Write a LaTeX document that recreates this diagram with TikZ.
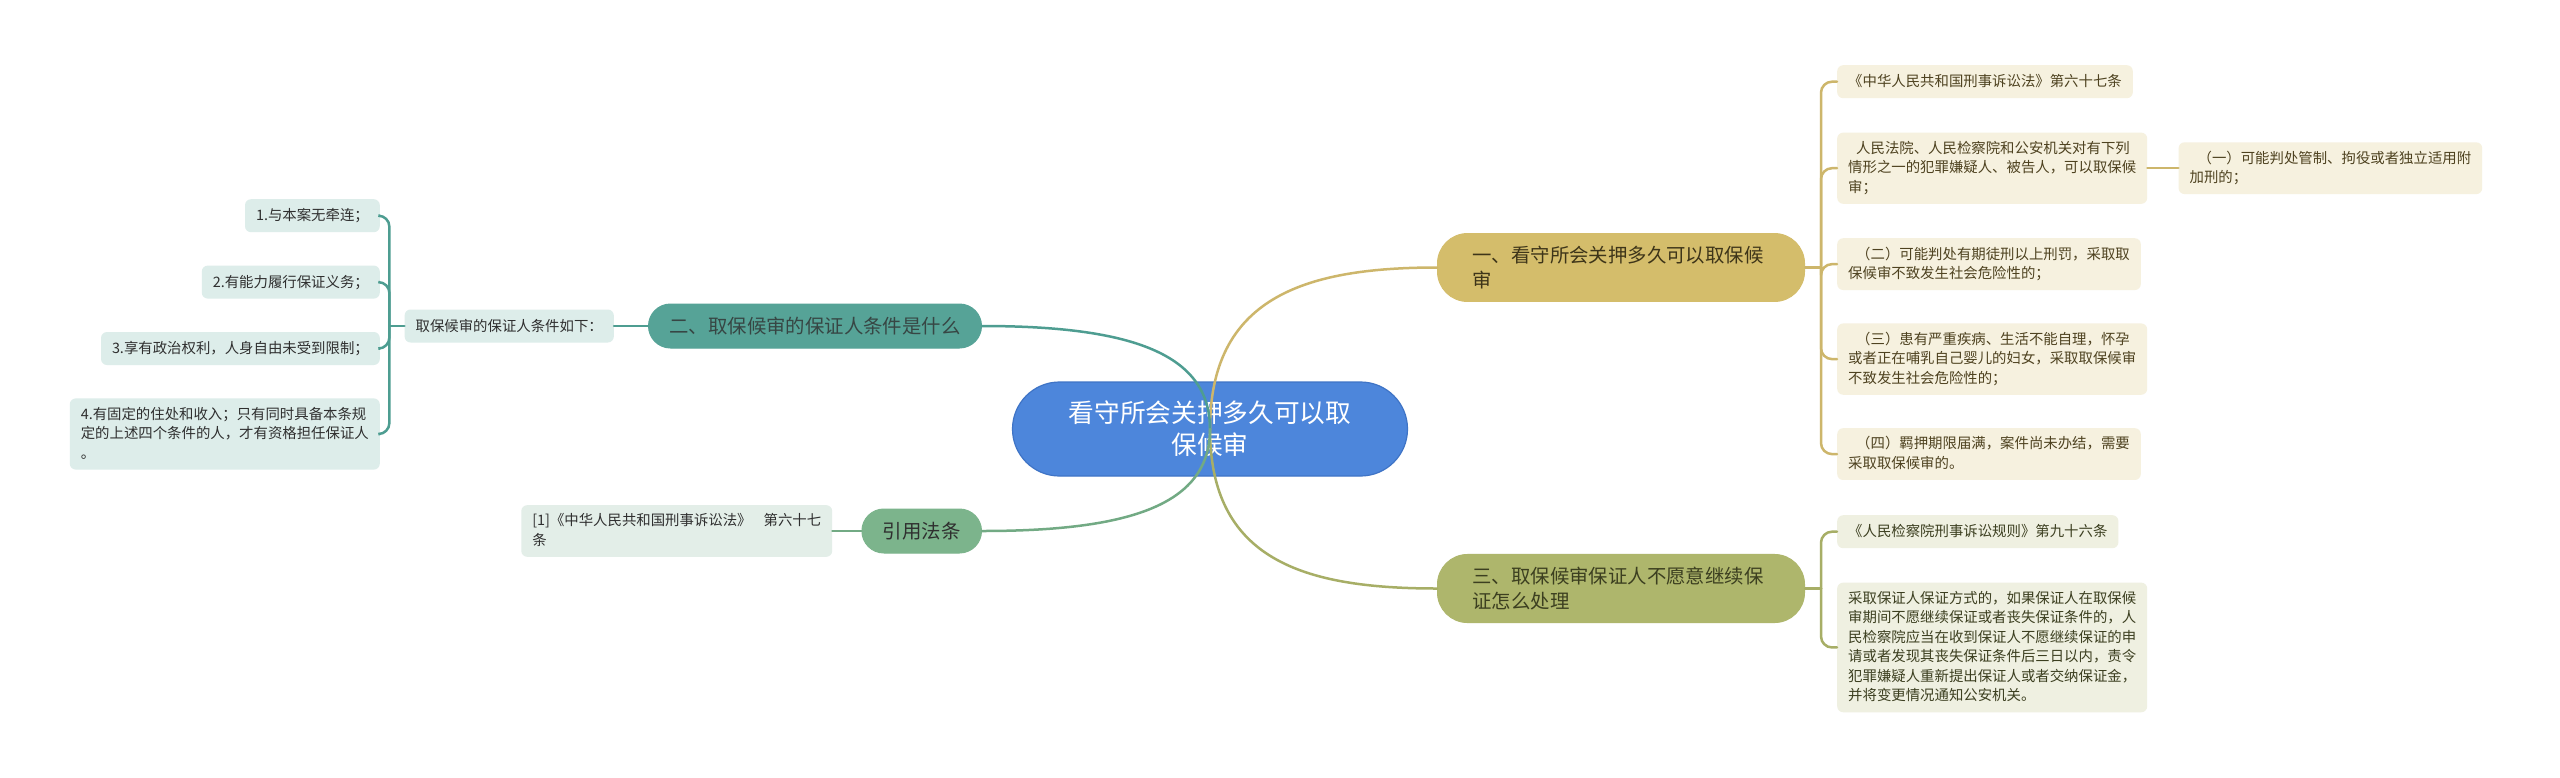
\documentclass[tikz,border=0pt]{standalone}
\usepackage{fontspec}
\newfontfamily\cjk{Noto Sans CJK SC}
\usepackage{tikz}
\usetikzlibrary{positioning}
\definecolor{MapBlue}{HTML}{4D86DB}
\definecolor{MapBlueEdge}{HTML}{3F74C6}
\definecolor{MapGold}{HTML}{D4BD6B}
\definecolor{MapGoldLine}{HTML}{CDB66B}
\definecolor{MapGoldLeaf}{HTML}{F6F1DF}
\definecolor{MapGoldTxt}{HTML}{4E4220}
\definecolor{MapOlive}{HTML}{AEB66C}
\definecolor{MapOliveLine}{HTML}{A7AE66}
\definecolor{MapOliveLeaf}{HTML}{EFF0E1}
\definecolor{MapOliveTxt}{HTML}{3C3F20}
\definecolor{MapTeal}{HTML}{56A397}
\definecolor{MapTealLine}{HTML}{4E9D91}
\definecolor{MapTealLeaf}{HTML}{DDEDEA}
\definecolor{MapSage}{HTML}{7CB48C}
\definecolor{MapSageLine}{HTML}{72AA84}
\definecolor{MapSageLeaf}{HTML}{E3EEE8}
\definecolor{MapDarkTxt}{HTML}{2F2F2F}

\begin{document}
\begin{tikzpicture}[
        x=1pt, y=1pt,
        every node/.style={font=\cjk},
        central/.style={
                fill=MapBlue,
                draw=MapBlueEdge,
                line width=1.2pt,
                rounded corners=47pt,
                minimum width=395pt,
                minimum height=94pt,
                align=center,
                text=white,
                font=\cjk\fontsize{25.7}{32}\selectfont
            },
        branch/.style={
                line width=1pt,
                rounded corners=22pt,
                inner xsep=21pt,
                inner ysep=12.5pt,
                minimum height=44pt,
                align=left,
                font=\cjk\fontsize{19.4}{25}\selectfont
            },
        widebranch/.style={branch, rounded corners=30pt, inner xsep=35pt, text width=297pt},
        leaf/.style={
                rounded corners=6pt,
                inner xsep=11pt,
                inner ysep=8.5pt,
                align=left,
                font=\cjk\fontsize{14.4}{19.5}\selectfont,
                execute at begin node={\rule[-3pt]{0pt}{16pt}},
                execute at end node={\rule[-3pt]{0pt}{3pt}}
            },
        goldleaf/.style={leaf, fill=MapGoldLeaf, text=MapGoldTxt},
        oliveleaf/.style={leaf, fill=MapOliveLeaf, text=MapOliveTxt},
        tealleaf/.style={leaf, fill=MapTealLeaf, text=MapDarkTxt},
        sageleaf/.style={leaf, fill=MapSageLeaf, text=MapDarkTxt},
        link/.style={line width=2.5pt, line cap=round},
        bracket/.style={link, rounded corners=11pt},
    ]

    \fill[white] (0,0) rectangle (2560,-777);
    \useasboundingbox (0,0) rectangle (2560,-777);

    % Main topics
    \node[central] (root) at (1210,-429) {看守所会关押多久可以取\\保候审};

    \node[widebranch, fill=MapGold, draw=MapGold, text=MapGoldTxt!80!black, anchor=west] (how) at (1437,-267.5)
        {一、看守所会关押多久可以取保候\\审};
    \node[widebranch, fill=MapOlive, draw=MapOlive, text=MapOliveTxt, anchor=west] (quit) at (1437,-588.5)
        {三、取保候审保证人不愿意继续保\\证怎么处理};
    \node[branch, fill=MapTeal, draw=MapTeal, text=MapDarkTxt!80!MapTeal, anchor=east] (cond) at (982,-326)
        {二、取保候审的保证人条件是什么};
    \node[branch, fill=MapSage, draw=MapSage, text=MapDarkTxt, anchor=east] (cite) at (982,-531)
        {引用法条};

    % Right leaves
    \node[goldleaf, anchor=north west] (law) at (1837,-65) {《中华人民共和国刑事诉讼法》第六十七条};
    \node[goldleaf, below=34pt of law.south west, anchor=north west] (court)
        {\hspace*{8pt}人民法院、人民检察院和公安机关对有下列\\情形之一的犯罪嫌疑人、被告人，可以取保候\\审；};
    \node[goldleaf, right=31pt of court] (item1)
        {\hspace*{8pt}（一）可能判处管制、拘役或者独立适用附\\加刑的；};
    \node[goldleaf, below=34pt of court.south west, anchor=north west] (item2)
        {\hspace*{8pt}（二）可能判处有期徒刑以上刑罚，采取取\\保候审不致发生社会危险性的；};
    \node[goldleaf, below=33pt of item2.south west, anchor=north west] (item3)
        {\hspace*{8pt}（三）患有严重疾病、生活不能自理，怀孕\\或者正在哺乳自己婴儿的妇女，采取取保候审\\不致发生社会危险性的；};
    \node[goldleaf, below=33pt of item3.south west, anchor=north west] (item4)
        {\hspace*{8pt}（四）羁押期限届满，案件尚未办结，需要\\采取取保候审的。};

    \node[oliveleaf, anchor=north west] (rule) at (1837,-515) {《人民检察院刑事诉讼规则》第九十六条};
    \node[oliveleaf, below=34pt of rule.south west, anchor=north west] (rulebody)
        {采取保证人保证方式的，如果保证人在取保候\\审期间不愿继续保证或者丧失保证条件的，人\\民检察院应当在收到保证人不愿继续保证的申\\请或者发现其丧失保证条件后三日以内，责令\\犯罪嫌疑人重新提出保证人或者交纳保证金，\\并将变更情况通知公安机关。};

    % Left leaves
    \node[tealleaf, left=34pt of cond] (list) {取保候审的保证人条件如下：};
    \node[tealleaf, anchor=north east] (c1) at (380,-199) {1.与本案无牵连；};
    \node[tealleaf, below=33pt of c1.south east, anchor=north east] (c2) {2.有能力履行保证义务；};
    \node[tealleaf, below=33pt of c2.south east, anchor=north east] (c3) {3.享有政治权利，人身自由未受到限制；};
    \node[tealleaf, below=33pt of c3.south east, anchor=north east] (c4)
        {4.有固定的住处和收入；只有同时具备本条规\\定的上述四个条件的人，才有资格担任保证人\\。};

    \node[sageleaf, left=29pt of cite] (citelaw) {[1]《中华人民共和国刑事诉讼法》\hspace{12pt}第六十七\\条};

    % Connectors
    \draw[link, MapGoldLine] (root.center) .. controls +(0,130) and +(-135,0) .. (how.west);
    \draw[link, MapOliveLine] (root.center) .. controls +(0,-130) and +(-135,0) .. (quit.west);
    \draw[link, MapTealLine] (cond.east) .. controls +(150,0) and +(0,75) .. (root.center);
    \draw[link, MapSageLine] (cite.east) .. controls +(150,0) and +(0,-75) .. (root.center);

    \path (how.east) ++(16,0) coordinate (howhub);
    \draw[link, MapGoldLine] (how.east) -- (howhub);
    \foreach \leaf in {law,court,item2,item3,item4}
        \draw[bracket, MapGoldLine] (howhub) |- (\leaf.west);
    \draw[link, MapGoldLine] (court.east) -- (item1.west);

    \path (quit.east) ++(16,0) coordinate (quithub);
    \draw[link, MapOliveLine] (quit.east) -- (quithub);
    \foreach \leaf in {rule,rulebody}
        \draw[bracket, MapOliveLine] (quithub) |- (\leaf.west);

    \draw[link, MapTealLine] (cond.west) -- (list.east);
    \path (list.west) ++(-15,0) coordinate (listhub);
    \draw[link, MapTealLine] (list.west) -- (listhub);
    \foreach \leaf in {c1,c2,c3,c4}
        \draw[bracket, MapTealLine] (listhub) |- (\leaf.east);

    \draw[link, MapSageLine] (cite.west) -- (citelaw.east);

\end{tikzpicture}
\end{document}
